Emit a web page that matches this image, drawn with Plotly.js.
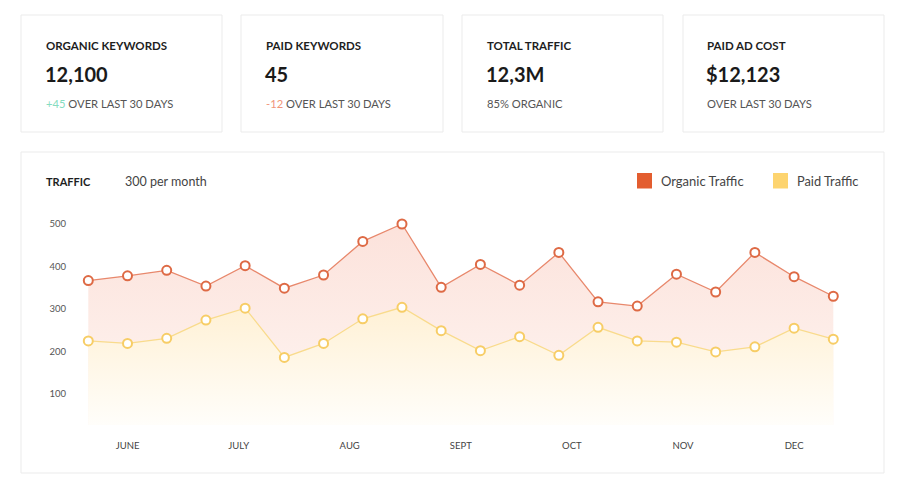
<!DOCTYPE html>
<html>
<head>
<meta charset="utf-8">
<script src="https://cdn.plot.ly/plotly-3.0.1.min.js"></script>
<style>
html,body{margin:0;padding:0;background:#fff;}
#chart{width:912px;height:495px;}
</style>
</head>
<body>
<div id="chart"></div>
<script>
// ---- data ----
const months = ['JUNE','JULY','AUG','SEPT','OCT','NOV','DEC'];
const organic = [367,378,391,354,402,349,380,459,500,351,405,356,433,317,307,382,340,433,376,330];
const paid    = [225,219,231,274,302,186,219,277,304,249,202,235,191,257,225,222,199,211,255,229];
const yTicks = [100,200,300,400,500];
const cardTitles = ['ORGANIC KEYWORDS','PAID KEYWORDS','TOTAL TRAFFIC','PAID AD COST'];
const cardValues = ['12,100','45','12,3M','$12,123'];
const cardDeltas = ['+45','-12','',''];
const cardNotes  = ['OVER LAST 30 DAYS','OVER LAST 30 DAYS','85% ORGANIC','OVER LAST 30 DAYS'];
const seriesNames = ['Organic Traffic','Paid Traffic'];

const W = 912, H = 495;
const px = x => x / W;
const py = y => 1 - y / H;
const idx = organic.map((_, i) => i);

const FONT = 'Lato, "Open Sans", sans-serif';
const orgLine = '#e8886c', orgMark = '#de6a45', orgLegend = '#e35d2f';
const paidLine = '#f9db8c', paidMark = '#f7cd66', paidLegend = '#fdd46f';

const traces = [
  {
    x: idx, y: organic, type: 'scatter', mode: 'lines+markers', name: seriesNames[0],
    line: {color: orgLine, width: 1.3},
    marker: {size: 9, color: '#fff', line: {color: orgMark, width: 2}},
    fill: 'tozeroy',
    fillgradient: {type: 'vertical', start: 0, stop: 500,
      colorscale: [[0, 'rgb(254,247,244)'], [1, 'rgb(252,226,219)']]},
    showlegend: false, hoverinfo: 'x+y'
  },
  {
    x: idx, y: paid, type: 'scatter', mode: 'lines+markers', name: seriesNames[1],
    line: {color: paidLine, width: 1.3},
    marker: {size: 9, color: '#fff', line: {color: paidMark, width: 2}},
    fill: 'tozeroy',
    fillgradient: {type: 'vertical', start: 20, stop: 300,
      colorscale: [[0, 'rgb(255,254,251)'], [1, 'rgb(255,241,214)']]},
    showlegend: false, hoverinfo: 'x+y'
  }
];

// pixel mapping for the plot area
const xScale = (833.3 - 88.3) / 19;
const xr = [-88.3 / xScale, (W - 88.3) / xScale];
const yPer = 170 / 400;
const yv = y => 500 - (y - 224) / yPer;

const shapes = [];
const annotations = [];
const cardX = [[21,222],[241,443],[462,663],[683,884]];
const textX = [44,264,485,705];
cardX.forEach((c, i) => {
  shapes.push({type:'rect', xref:'paper', yref:'paper', x0:px(c[0]), x1:px(c[1]), y0:py(132), y1:py(15),
    line:{color:'#ebebeb', width:1}, fillcolor:'#fff', layer:'below'});
  annotations.push({xref:'paper', yref:'paper', x:px(textX[i]), y:py(45.5), xanchor:'left', yanchor:'middle',
    text:'<b>'+cardTitles[i]+'</b>', showarrow:false, font:{family:FONT, size:11.5, color:'#1e1e1e'}});
  annotations.push({xref:'paper', yref:'paper', x:px(textX[i]-1), y:py(74), xanchor:'left', yanchor:'middle',
    text:'<b>'+cardValues[i]+'</b>', showarrow:false, font:{family:FONT, size:20, color:'#1a1a1a'}});
  let d = cardDeltas[i];
  let dtxt = '';
  if (d) dtxt = '<span style="color:' + (d[0]==='+' ? '#86dcc0' : '#f19478') + '">' + d + '</span> ';
  annotations.push({xref:'paper', yref:'paper', x:px(textX[i]), y:py(103), xanchor:'left', yanchor:'middle',
    text:dtxt + cardNotes[i], showarrow:false, font:{family:FONT, size:11.2, color:'#555'}});
});
shapes.push({type:'rect', xref:'paper', yref:'paper', x0:px(21), x1:px(884), y0:py(473), y1:py(152),
  line:{color:'#ebebeb', width:1}, fillcolor:'#fff', layer:'below'});
annotations.push({xref:'paper', yref:'paper', x:px(44), y:py(181), xanchor:'left', yanchor:'middle',
  text:'<b>TRAFFIC</b>', showarrow:false, font:{family:FONT, size:11, color:'#1e1e1e'}});
annotations.push({xref:'paper', yref:'paper', x:px(123), y:py(181), xanchor:'left', yanchor:'middle',
  text:'300 per month', showarrow:false, font:{family:FONT, size:12.5, color:'#444'}});
// legend
const legX = [[637,659],[773,795]];
const legC = [orgLegend, paidLegend];
const legSize = [13, 12.8];
legX.forEach((l, i) => {
  shapes.push({type:'rect', xref:'paper', yref:'paper', x0:px(l[0]), x1:px(l[0]+15), y0:py(188.5), y1:py(173),
    line:{width:0}, fillcolor:legC[i]});
  annotations.push({xref:'paper', yref:'paper', x:px(l[1]), y:py(181), xanchor:'left', yanchor:'middle',
    text:seriesNames[i], showarrow:false, font:{family:FONT, size:legSize[i], color:'#444'}});
});

const layout = {
  width: W, height: H,
  margin: {l:0, r:0, t:0, b:0},
  paper_bgcolor: '#fff', plot_bgcolor: 'rgba(0,0,0,0)',
  showlegend: false,
  xaxis: {
    domain: [0, 1], range: xr, showgrid: false, zeroline: false, showline: false,
    tickmode: 'array', tickvals: months.map((m, k) => 1 + k * 17 / 6), ticktext: months,
    ticks: 'outside', ticklen: 12, tickcolor: 'rgba(0,0,0,0)',
    tickfont: {family: FONT, size: 9.5, color: '#444'}, fixedrange: true
  },
  yaxis: {
    domain: [py(425), py(200)], range: [yv(425), yv(200)],
    anchor: 'free', position: px(66),
    showgrid: false, zeroline: false, showline: false, ticks: '',
    tickmode: 'array', tickvals: yTicks,
    tickfont: {family: FONT, size: 9.5, color: '#555'}, fixedrange: true
  },
  shapes: shapes,
  annotations: annotations
};

Plotly.newPlot('chart', traces, layout, {displayModeBar: false, staticPlot: true});
</script>
</body>
</html>
